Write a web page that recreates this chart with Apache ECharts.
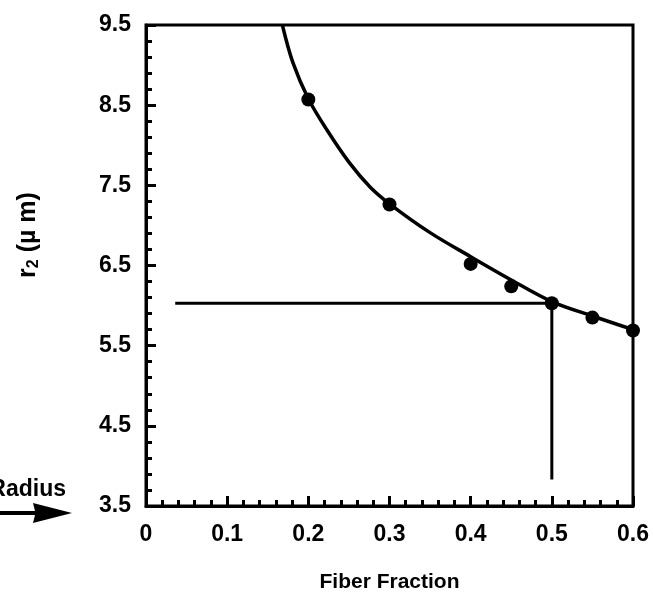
<!DOCTYPE html>
<html>
<head>
<meta charset="utf-8">
<script src="https://cdn.jsdelivr.net/npm/echarts@6/dist/echarts.min.js"></script>
<style>
html,body{margin:0;padding:0;background:#fff;}
#chart{width:653px;height:599px;}
</style>
</head>
<body>
<div id="chart"></div>
<script>
// Measured points (fiber fraction, r2 in µm)
const pointX = [0.2, 0.3, 0.4, 0.45, 0.5, 0.55, 0.6];
const pointY = [8.57, 7.26, 6.52, 6.24, 6.03, 5.85, 5.69];
// Fitted curve
const curveX = [0.168, 0.181, 0.2, 0.223, 0.25, 0.276, 0.3, 0.35, 0.4, 0.45, 0.5, 0.55, 0.6];
const curveY = [9.5, 9.03, 8.58, 8.19, 7.79, 7.48, 7.27, 6.91, 6.61, 6.32, 6.05, 5.87, 5.70];
// Guide line at the chosen fraction
const guideX = [0.036, 0.5, 0.5];
const guideY = [6.03, 6.03, 3.83];
// Axis ticks
const xTicks = ['0', '0.1', '0.2', '0.3', '0.4', '0.5', '0.6'];
const yTicks = ['3.5', '4.5', '5.5', '6.5', '7.5', '8.5', '9.5'];

const zip = (a, b) => a.map((v, i) => [v, b[i]]);
const font = 'Liberation Sans, Arial, Helvetica, sans-serif';

const chart = echarts.init(document.getElementById('chart'), null, {renderer: 'canvas'});
chart.setOption({
  animation: false,
  backgroundColor: '#fff',
  grid: {left: 146, right: 20, top: 25, bottom: 93, show: true, borderColor: '#000', borderWidth: 3, backgroundColor: 'transparent'},
  xAxis: {
    type: 'value', min: 0, max: 0.6, interval: 0.1,
    name: 'Fiber Fraction', nameLocation: 'middle', nameGap: 66,
    nameTextStyle: {color: '#000', fontFamily: font, fontWeight: 'bold', fontSize: 21},
    axisLine: {show: true, lineStyle: {color: '#000', width: 3}},
    axisTick: {show: true, inside: true, length: 10, lineStyle: {color: '#000', width: 3}},
    minorTick: {show: true, splitNumber: 5, length: 6, lineStyle: {color: '#000', width: 3}},
    splitLine: {show: false},
    axisLabel: {margin: 17, color: '#000', fontFamily: font, fontWeight: 'bold', fontSize: 23,
      formatter: v => xTicks[Math.round(v * 10)]}
  },
  yAxis: {
    type: 'value', min: 3.5, max: 9.5, interval: 1,
    axisLine: {show: true, lineStyle: {color: '#000', width: 3}},
    axisTick: {show: true, inside: true, length: 10, lineStyle: {color: '#000', width: 3}},
    minorTick: {show: true, splitNumber: 5, length: 6, lineStyle: {color: '#000', width: 3}},
    splitLine: {show: false},
    axisLabel: {margin: 15, color: '#000', fontFamily: font, fontWeight: 'bold', fontSize: 23,
      formatter: v => yTicks[Math.round(v - 3.5)]}
  },
  graphic: [
    {type: 'text', x: 28, y: 235, rotation: Math.PI / 2,
      style: {text: '{a|r}{b|2} {a|(µ m)}', fill: '#000', align: 'center', verticalAlign: 'middle',
        rich: {a: {fontFamily: font, fontWeight: 'bold', fontSize: 25},
               b: {fontFamily: font, fontWeight: 'bold', fontSize: 16, padding: [12, 0, 0, 0]}},
        font: 'bold 25px ' + font}},
    {type: 'text', x: 66, y: 490,
      style: {text: 'Radius', fill: '#000', align: 'right', verticalAlign: 'middle', font: 'bold 23px ' + font}},
    {type: 'polygon', shape: {points: [[0, 511], [35, 511], [33, 503], [72, 513], [33, 523], [35, 515], [0, 515]]},
      style: {fill: '#000'}}
  ],
  series: [
    {type: 'line', data: zip(curveX, curveY), smooth: 0.35, showSymbol: false, symbol: 'none',
      lineStyle: {color: '#000', width: 3.5}, clip: true, silent: true},
    {type: 'line', data: zip(guideX, guideY), showSymbol: false, symbol: 'none',
      lineStyle: {color: '#000', width: 3}, silent: true},
    {type: 'scatter', data: zip(pointX, pointY), symbolSize: 14, itemStyle: {color: '#000', opacity: 1}, silent: true}
  ]
});
</script>
</body>
</html>
